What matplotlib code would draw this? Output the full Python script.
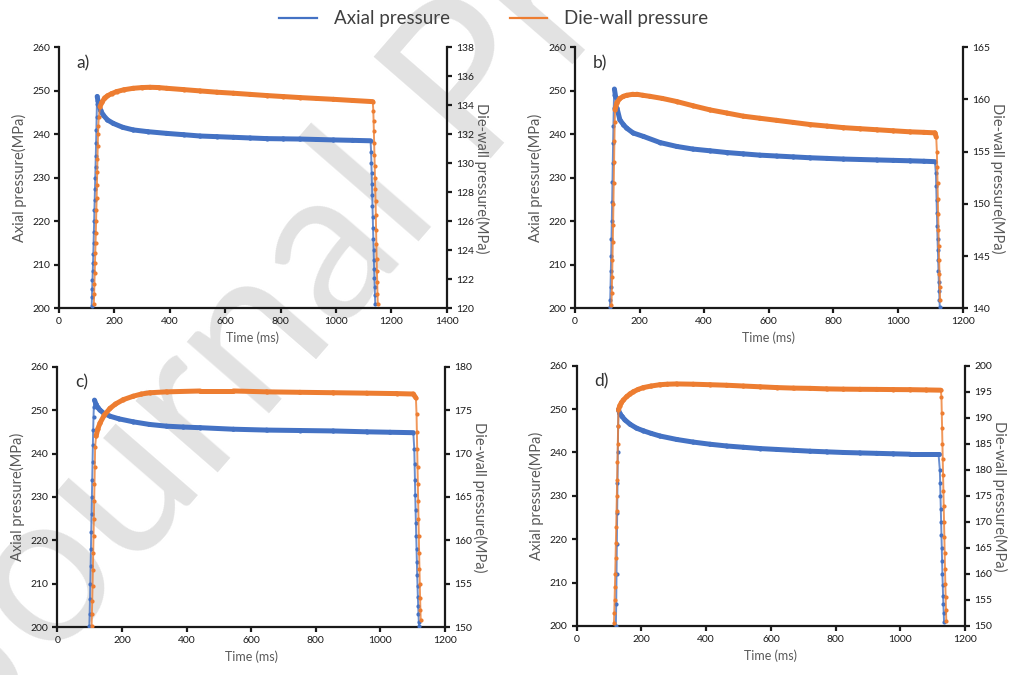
import matplotlib

matplotlib.use("Agg")
import matplotlib.pyplot as plt
import numpy as np
from matplotlib.collections import LineCollection
from matplotlib.lines import Line2D

plt.rcParams["font.family"] = ["Lato", "DejaVu Sans"]

_B = "#4472c4"
_O = "#ed7d31"

# ---- panel a ----
a_ax_t = [118, 119, 120, 121, 122, 123, 124, 125, 126, 127, 128, 129, 130, 131, 132, 133, 134, 135, 136, 137, 138,
          141, 145, 150, 160, 175, 196, 230, 268, 320, 389, 450, 509, 570, 630, 690, 750, 810, 870, 930, 991, 1060, 1125,
          1127, 1128, 1129, 1130, 1131, 1132, 1133, 1134, 1135, 1136, 1137, 1138, 1139, 1140, 1141, 1142]
a_ax_p = [200.5, 202.5, 204.5, 206.5, 208.5, 210.5, 212.5, 215, 217.5, 220, 222.5, 225, 227.5, 230, 232.5, 235, 238, 241, 244, 247, 248.7,
          247.6, 246.5, 245.5, 244.4, 243.3, 242.5, 241.6, 241.0, 240.6, 240.2, 239.9, 239.6, 239.45, 239.3, 239.15, 239.0, 238.95, 238.9, 238.8, 238.7, 238.6, 238.5,
          236, 233.5, 231, 228.5, 226, 223.5, 221, 218.5, 216, 213.5, 211, 209, 207, 205, 203, 201]
a_dw_t = [126, 127, 128, 129, 130, 131, 132, 133, 134, 135, 136, 137, 138, 139, 140, 141, 142, 144, 148, 155, 165, 175,
          190, 208, 235, 268, 300, 329, 360, 389, 450, 509, 570, 630, 690, 750, 810, 870, 930, 991, 1060, 1133,
          1135, 1136, 1137, 1138, 1139, 1140, 1141, 1142, 1143, 1144, 1145, 1146, 1147, 1148, 1149, 1150, 1151]
a_dw_p = [120.3, 121.0, 121.7, 122.4, 123.1, 123.8, 124.5, 125.2, 126.0, 126.8, 127.6, 128.5, 129.4, 130.3, 131.2, 132.0, 132.6, 133.2, 133.9, 134.2, 134.5, 134.65,
          134.8, 134.94, 135.07, 135.17, 135.22, 135.24, 135.22, 135.17, 135.08, 134.99, 134.9, 134.83, 134.75, 134.67, 134.6, 134.53, 134.47, 134.41, 134.33, 134.25,
          133.6, 132.9, 132.2, 131.4, 130.6, 129.8, 129.0, 128.2, 127.4, 126.4, 125.4, 124.4, 123.4, 122.6, 121.8, 121.0, 120.3]

# ---- panel b ----
b_ax_t = [108, 109, 110, 111, 112, 113, 114, 115, 116, 117, 118, 119, 120, 121, 122,
          126, 130, 139, 150, 160, 180, 212, 263, 315, 365, 418, 470, 521, 572, 624, 676, 727, 780, 831, 882, 934, 985, 1037, 1080, 1114,
          1117, 1118, 1119, 1120, 1121, 1122, 1123, 1124, 1125, 1126, 1127, 1128, 1129]
b_ax_p = [200.3, 202, 205, 208.5, 212, 216, 220, 224.5, 229, 233.5, 238, 242, 246, 249, 250.4,
          248.5, 246, 243.3, 242.2, 241.4, 240.3, 239.5, 238.1, 237.2, 236.6, 236.2, 235.8, 235.5, 235.2, 235.0, 234.8, 234.6, 234.45, 234.3, 234.2, 234.1, 234.0, 233.9, 233.8, 233.7,
          231, 228, 225, 222, 219, 216, 213.5, 211, 208.5, 206, 204, 202, 200.3]
b_dw_t = [113, 114, 115, 116, 117, 118, 119, 120, 121, 122, 123, 124, 130, 139, 150, 160, 180, 191, 210, 232, 270, 315,
          365, 418, 470, 521, 572, 624, 676, 727, 780, 831, 882, 934, 985, 1037, 1080, 1114, 1118,
          1120, 1121, 1122, 1123, 1124, 1125, 1126, 1127, 1128, 1129, 1130]
b_dw_p = [140.3, 141.5, 143, 144.6, 146.3, 148, 150, 152, 154, 156, 157.8, 159.0, 159.7, 160.1, 160.3, 160.4, 160.5, 160.5, 160.4, 160.3, 160.1, 159.8,
          159.4, 159.0, 158.7, 158.4, 158.2, 158.0, 157.8, 157.6, 157.45, 157.3, 157.2, 157.1, 157.0, 156.9, 156.85, 156.8, 156.4,
          155, 153.5, 152, 150.5, 149, 147.5, 146, 144.6, 143.3, 142, 140.8]

# ---- panel c ----
c_ax_t = [99, 100, 101, 102, 103, 104, 105, 106, 107, 108, 109, 110, 111, 112, 113, 115,
          120, 125, 132, 145, 163, 190, 235, 285, 338, 390, 442, 545, 648, 751, 854, 958, 1030, 1102,
          1105, 1106, 1107, 1108, 1109, 1110, 1111, 1112, 1113, 1114, 1115, 1116, 1117, 1118, 1119, 1120]
c_ax_p = [200.2, 203, 206.5, 210, 214, 218, 222, 226, 230, 234, 238, 242, 245.5, 248.5, 250.8, 252.3,
          251.3, 250.6, 250.0, 249.2, 248.6, 248.0, 247.3, 246.7, 246.3, 246.1, 245.95, 245.6, 245.4, 245.3, 245.2, 245.0, 244.9, 244.8,
          241, 237.5, 234, 230.5, 227, 224, 221, 218, 215, 212, 209.5, 207, 205, 203, 201.2, 200.2]
c_dw_t = [106, 107, 108, 109, 110, 111, 112, 113, 114, 115, 116, 117, 120, 125, 132, 145, 163, 180, 204, 235, 260, 287,
          338, 442, 545, 648, 751, 854, 958, 1050, 1102, 1110,
          1112, 1113, 1114, 1115, 1116, 1117, 1118, 1119, 1120, 1121, 1122, 1123, 1124, 1125]
c_dw_p = [150.2, 151.5, 153, 154.8, 156.6, 158.5, 160.5, 162.5, 164.5, 166.5, 168.5, 170.8, 172.0, 172.8, 173.5, 174.4, 175.2, 175.7, 176.2, 176.6, 176.85, 177.0,
          177.1, 177.2, 177.2, 177.1, 177.05, 177.0, 176.95, 176.9, 176.85, 176.4,
          174.5, 172.5, 170.5, 168.5, 166.5, 164.5, 162.5, 160.5, 158.5, 156.7, 155, 153.4, 152, 150.8]

# ---- panel d ----
d_ax_t = [121, 122, 123, 124, 125, 126, 127, 128, 129,
          133, 140, 149, 165, 185, 206, 230, 257, 309, 360, 412, 463, 515, 567, 618, 670, 721, 772, 824, 875, 927, 978, 1030, 1080, 1118,
          1122, 1123, 1124, 1125, 1126, 1127, 1128, 1129, 1130, 1131, 1132, 1133, 1134, 1135]
d_ax_p = [200, 205, 212, 219, 226, 233, 240, 246, 249.9,
          249.0, 248.3, 247.5, 246.5, 245.6, 245.0, 244.4, 243.8, 243.0, 242.4, 241.9, 241.5, 241.2, 240.9, 240.7, 240.5, 240.3, 240.15, 240.0, 239.9, 239.8, 239.7, 239.6, 239.6, 239.6,
          236, 233, 230, 227, 224, 221, 218, 215, 212, 209.5, 207, 205, 203, 201]
d_dw_t = [115, 116, 117, 118, 119, 120, 121, 122, 123, 124, 125, 126, 127, 128, 129,
          133, 138, 144, 155, 165, 175, 190, 206, 230, 257, 280, 309, 360, 412, 463, 515, 567, 618, 670, 721, 772, 824, 875, 927, 978, 1030, 1080, 1125,
          1127, 1128, 1129, 1130, 1131, 1132, 1133, 1134, 1135, 1136, 1137, 1138, 1139, 1140, 1141, 1142]
d_dw_p = [150.5, 152.5, 155, 157.5, 160, 163, 166, 169, 172, 175, 178, 181.5, 185, 188.5, 191.5,
          192.3, 192.9, 193.4, 194.1, 194.6, 195.0, 195.45, 195.8, 196.1, 196.35, 196.45, 196.5, 196.45, 196.35, 196.25, 196.1, 195.95, 195.8, 195.7, 195.65, 195.55, 195.5, 195.47, 195.45, 195.42, 195.4, 195.35, 195.3,
          194, 191, 188, 185, 182, 179, 176, 173, 170, 167, 164, 161, 158, 155.5, 153, 151]

panels = [
    ("a)", a_ax_t, a_ax_p, a_dw_t, a_dw_p, (0, 1400), (120, 138, 2)),
    ("b)", b_ax_t, b_ax_p, b_dw_t, b_dw_p, (0, 1200), (140, 165, 5)),
    ("c)", c_ax_t, c_ax_p, c_dw_t, c_dw_p, (0, 1200), (150, 180, 5)),
    ("d)", d_ax_t, d_ax_p, d_dw_t, d_dw_p, (0, 1200), (150, 200, 5)),
]
# axes rectangles in figure fractions
rects = [[0.0577, 0.5433, 0.3794, 0.3867], [0.5626, 0.5433, 0.3794, 0.3867],
         [0.0561, 0.0707, 0.3793, 0.3861], [0.5643, 0.0726, 0.3800, 0.3856]]


def draw(ax, t, p, color, span, xspan):
    """Sampled points: thick trace where the curve is flat, thin dotted look on the ramps."""
    t = np.asarray(t, float)
    p = np.asarray(p, float)
    pts = np.column_stack([t, p])
    slope = (np.abs(np.diff(p)) / span) / (np.diff(t) / xspan)
    steep = slope > 12
    flat = [pts[i:i + 2] for i in range(len(t) - 1) if not steep[i]]
    ramp = [pts[i:i + 2] for i in range(len(t) - 1) if steep[i]]
    ax.add_collection(LineCollection(ramp, colors=color, linewidths=1.4, alpha=0.8, zorder=3))
    ax.add_collection(LineCollection(flat, colors=color, linewidths=3.6, capstyle="round", zorder=3))
    ax.plot(t, p, "o", ms=3.0, color=color, mec="none", zorder=3)


def style(ax, spines):
    for s in ax.spines:
        ax.spines[s].set_visible(s in spines)
        ax.spines[s].set_linewidth(1.6)
        ax.spines[s].set_color("#1a1a1a")
    ax.tick_params(direction="out", length=3.5, width=1.6, color="#1a1a1a",
                   labelsize=7.5, labelcolor="#1a1a1a", pad=3)
    ax.set_facecolor("none")


fig = plt.figure(figsize=(10.22, 6.75), dpi=100)
fig.text(-0.01, -0.089, "Journal Pre-proof", rotation=49, rotation_mode="anchor",
         ha="left", va="baseline", fontsize=155, color="#e2e2e2", zorder=-5)

for (lab, axt, axp, dwt, dwp, xl, (r0, r1, rs)), rect in zip(panels, rects):
    ax = fig.add_axes(rect)
    ax2 = ax.twinx()
    draw(ax, axt, axp, _B, 60, xl[1] - xl[0])
    draw(ax2, dwt, dwp, _O, r1 - r0, xl[1] - xl[0])
    ax.set_xlim(*xl)
    ax.set_ylim(200, 260)
    ax2.set_ylim(r0, r1)
    ax.set_xticks(np.arange(xl[0], xl[1] + 1, 200))
    ax.set_yticks(np.arange(200, 261, 10))
    ax2.set_yticks(np.arange(r0, r1 + 0.1, rs))
    style(ax, ["left", "bottom"])
    style(ax2, ["right"])
    ax.set_xlabel("Time (ms)", fontsize=9, color="#595959", labelpad=4)
    ax.set_ylabel("Axial pressure(MPa)", fontsize=10.5, color="#595959", labelpad=4)
    ax2.set_ylabel("Die-wall pressure(MPa)", fontsize=10.5, color="#595959", rotation=270, labelpad=11)
    ax2.text(0.045, 0.97, lab, transform=ax2.transAxes, fontsize=12.5, color="#333333", va="top", ha="left")

handles = [Line2D([], [], color=_B, lw=1.6), Line2D([], [], color=_O, lw=1.6)]
fig.legend(handles, ["Axial pressure", "Die-wall pressure"], loc="center", bbox_to_anchor=(0.483, 0.972),
           ncol=2, frameon=False, fontsize=13.5, handlelength=2.0, columnspacing=3.2, handletextpad=0.9,
           labelcolor="#404040")

fig.savefig("out.png", dpi=100)
